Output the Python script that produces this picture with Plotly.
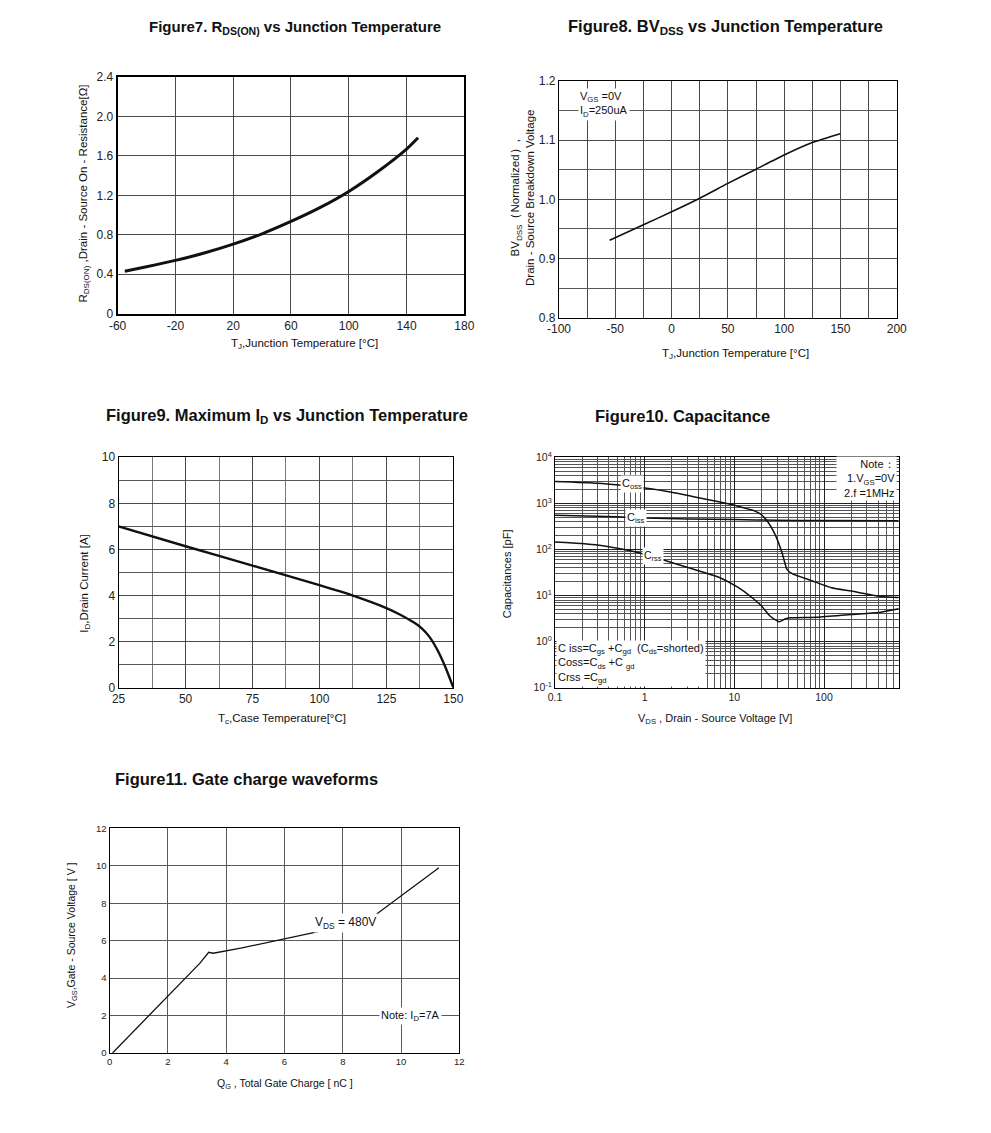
import plotly.graph_objects as go

# page is 991x1133; the html body keeps its default 8px margin
PAGE_W, PAGE_H = 991, 1133
MARGIN = 8
W, H = PAGE_W - 2 * MARGIN, PAGE_H - 2 * MARGIN
FONT = "Liberation Sans, Arial, sans-serif"

# ---------------- data ----------------
# Figure 7: RDS(on) vs junction temperature
f7_tj = [-55, -40, -20, 0, 20, 40, 60, 80, 100, 120, 140, 148]
f7_rds = [0.43, 0.475, 0.54, 0.615, 0.705, 0.81, 0.935, 1.075, 1.24, 1.44, 1.67, 1.785]

# Figure 8: BVdss (normalized) vs junction temperature
f8_tj = [-55, -25, 0, 25, 50, 75, 100, 125, 150]
f8_bv = [0.931, 0.957, 0.979, 1.002, 1.027, 1.051, 1.075, 1.096, 1.111]

# Figure 9: maximum ID vs case temperature
f9_tc = [25, 50, 75, 100, 112.5, 125, 130, 135, 138, 141, 144, 147, 150]
f9_id = [7.0, 6.14, 5.30, 4.45, 4.0, 3.46, 3.18, 2.85, 2.6, 2.22, 1.65, 0.9, 0.0]

# Figure 10: capacitance vs VDS
f10_v_coss = [0.1, 0.3, 0.52, 1, 2, 3.5, 6.7, 11, 17, 20, 24, 28.5, 34, 38.6, 44, 73, 121, 202, 437, 680]
f10_coss = [3000, 2750, 2500, 2150, 1750, 1400, 1080, 870, 680, 570, 380, 210, 85, 37, 30, 21, 14.8, 12.5, 9.5, 9.1]
f10_v_ciss = [0.1, 0.5, 1, 3, 10, 30, 100, 680]
f10_ciss = [550, 510, 480, 460, 445, 430, 425, 422]
f10_v_crss = [0.1, 0.2, 0.37, 0.87, 1.5, 3.1, 6.7, 11, 15.7, 20, 25, 29.7, 31.7, 36.8, 41.6, 85, 202, 404, 680]
f10_crss = [146, 135, 118, 85, 62, 40, 25, 15, 9.1, 6.0, 3.6, 2.85, 2.7, 3.1, 3.3, 3.4, 3.9, 4.3, 5.2]

# Figure 11: gate charge
f11_qg = [0.1, 0.6, 1.3, 2.0, 2.6, 3.1, 3.4, 3.55, 4.5, 6.0, 7.2, 8.75, 10.0, 11.3]
f11_vgs = [0, 0.8, 1.9, 3.05, 4.0, 4.8, 5.38, 5.33, 5.6, 6.1, 6.5, 6.95, 8.4, 9.9]

# tick labels
f7_xticks = [-60, -20, 20, 60, 100, 140, 180]
f7_xtext = ["-60", "-20", "20", "60", "100", "140", "180"]
f7_yticks = [0, 0.4, 0.8, 1.2, 1.6, 2.0, 2.4]
f7_ytext = ["0", "0.4", "0.8", "1.2", "1.6", "2.0", "2.4"]
f8_xticks = [-100, -50, 0, 50, 100, 150, 200]
f8_xtext = ["-100", "-50", "0", "50", "100", "150", "200"]
f10_xticks = [0.1, 1, 10, 100]
f10_xtext = ["0.1", "1", "10", "100"]
f10_yticks = [0.1, 1, 10, 100, 1000, 10000]
f10_ytext = ["10<sup>-1</sup>", "10<sup>0</sup>", "10<sup>1</sup>", "10<sup>2</sup>", "10<sup>3</sup>", "10<sup>4</sup>"]

# screen calibration (observed placement of the paper inside the picture)
SX, OX = 0.981, 10.2
SY, OY = 0.9888, 5.8


def px(x):
    return ((x - OX) / SX - MARGIN) / W


def py(y):
    return 1 - ((y - OY) / SY - MARGIN) / H


fig = go.Figure()

line_black = "#111111"
fig.add_trace(go.Scatter(x=f7_tj, y=f7_rds, mode="lines", line=dict(color=line_black, width=3, shape="spline", smoothing=0.6),
                         xaxis="x", yaxis="y", showlegend=False))
fig.add_trace(go.Scatter(x=f8_tj, y=f8_bv, mode="lines", line=dict(color=line_black, width=1.6, shape="spline", smoothing=0.6),
                         xaxis="x2", yaxis="y2", showlegend=False))
fig.add_trace(go.Scatter(x=f9_tc, y=f9_id, mode="lines", line=dict(color=line_black, width=2.4, shape="spline", smoothing=0.6),
                         xaxis="x3", yaxis="y3", showlegend=False))
for xv, yv in [(f10_v_coss, f10_coss), (f10_v_ciss, f10_ciss), (f10_v_crss, f10_crss)]:
    fig.add_trace(go.Scatter(x=xv, y=yv, mode="lines", line=dict(color=line_black, width=1.5, shape="spline", smoothing=0.5),
                             xaxis="x4", yaxis="y4", showlegend=False))
fig.add_trace(go.Scatter(x=f11_qg, y=f11_vgs, mode="lines", line=dict(color=line_black, width=1.3),
                         xaxis="x5", yaxis="y5", showlegend=False))


def axis(domain, anchor, lw=1.2, fs=12, grid="#666666", **kw):
    d = dict(domain=domain, anchor=anchor, showline=True, mirror=True, linecolor="#000000", linewidth=lw,
             showgrid=True, gridcolor=grid, gridwidth=1, zeroline=False, ticks="",
             tickfont=dict(family=FONT, size=fs, color="#222222"), fixedrange=True)
    d.update(kw)
    return d


# minor log grid values
minor_x = [m * 10 ** e for e in range(-1, 3) for m in range(2, 10) if m * 10 ** e <= 700]
minor_y = [m * 10 ** e for e in range(-1, 4) for m in range(2, 10)]

fig.update_layout(
    width=W, height=H, margin=dict(l=0, r=0, t=0, b=0),
    paper_bgcolor="white", plot_bgcolor="white",
    font=dict(family=FONT, color="#222222"),
    xaxis=axis([px(116), px(464)], "y", lw=2, grid="#4a4a4a", range=[-60, 180], tickmode="array",
               tickvals=f7_xticks, ticktext=f7_xtext),
    yaxis=axis([py(312), py(75)], "x", lw=2, grid="#4a4a4a", range=[0, 2.4], tickmode="array",
               tickvals=f7_yticks, ticktext=f7_ytext),
    xaxis2=axis([px(559), px(898)], "y2", range=[-100, 200], tickmode="array", tickvals=f8_xticks,
                ticktext=f8_xtext, grid="#4a4a4a",
                minor=dict(dtick=25, showgrid=True, gridcolor="#4a4a4a")),
    yaxis2=axis([py(316), py(79)], "x2", range=[0.8, 1.2], dtick=0.1, tickformat=".1f", grid="#4a4a4a",
                minor=dict(dtick=0.05, showgrid=True, gridcolor="#5a5a5a")),
    xaxis3=axis([px(117), px(453)], "y3", range=[25, 150], dtick=25, grid="#4a4a4a",
                minor=dict(dtick=12.5, showgrid=True, gridcolor="#7a7a7a")),
    yaxis3=axis([py(687), py(456)], "x3", range=[0, 10], dtick=2, grid="#4a4a4a",
                minor=dict(dtick=1, showgrid=True, gridcolor="#5a5a5a")),
    xaxis4=axis([px(555), px(900)], "y4", type="log", range=[-1, 2.833], tickmode="array", tickvals=f10_xticks,
                ticktext=f10_xtext, fs=10.5, grid="#222222",
                minor=dict(tickmode="array", tickvals=minor_x, showgrid=True, gridcolor="#555555", gridwidth=1)),
    yaxis4=axis([py(687), py(456)], "x4", type="log", range=[-1, 4], tickmode="array", tickvals=f10_yticks,
                ticktext=f10_ytext, fs=10.5, grid="#222222",
                minor=dict(tickmode="array", tickvals=minor_y, showgrid=True, gridcolor="#555555", gridwidth=1)),
    xaxis5=axis([px(108), px(459)], "y5", range=[0, 12], dtick=2, fs=9.5, grid="#5a5a5a"),
    yaxis5=axis([py(1053), py(828)], "x5", range=[0, 12], dtick=2, fs=9.5, grid="#5a5a5a"),
)

ann = []


def text(x, y, t, size=10, angle=0, bold=False, xanchor="center", yanchor="middle", bg=None, align="center"):
    d = dict(x=px(x), y=py(y), xref="paper", yref="paper", text=("<b>%s</b>" % t) if bold else t,
             showarrow=False, textangle=angle, xanchor=xanchor, yanchor=yanchor, align=align,
             font=dict(family=FONT, size=size, color="#111111"))
    if bg:
        d["bgcolor"] = bg
    ann.append(d)


# titles
text(294, 25, "Figure7. R<sub>DS(ON)</sub> vs Junction Temperature", size=15, bold=True)
text(726, 25, "Figure8. BV<sub>DSS</sub> vs Junction Temperature", size=16.5, bold=True)
text(286, 415, "Figure9. Maximum I<sub>D</sub> vs Junction Temperature", size=16.5, bold=True)
text(683, 415, "Figure10. Capacitance", size=16.5, bold=True)
text(245, 778, "Figure11. Gate charge waveforms", size=16.5, bold=True)

# axis titles
text(82, 192, "R<sub>DS(ON)</sub> ,Drain - Source On - Resistance[Ω]", size=11.5, angle=-90)
text(304, 342, "T<sub>J</sub>,Junction Temperature [°C]", size=11.5)
text(523, 196, "BV<sub>DSS</sub>（Normalized）,<br>Drain - Source Breakdown Voltage", size=11.5, angle=-90)
text(736, 352, "T<sub>J</sub>,Junction Temperature [°C]", size=11.5)
text(83, 582, "I<sub>D</sub>,Drain Current [A]", size=11.5, angle=-90)
text(281, 718, "T<sub>c</sub>,Case Temperature[°C]", size=11.5)
text(507, 573, "Capacitances [pF]", size=11, angle=-90)
text(716, 718, "V<sub>DS</sub> , Drain - Source Voltage [V]", size=11)
text(70, 935, "V<sub>GS</sub>,Gate - Source Voltage [ V ]", size=10.5, angle=-90)
text(284, 1084, "Q<sub>G</sub> , Total Gate Charge [ nC ]", size=10.5)

# in-plot notes
text(578, 102, "V<sub>GS</sub> =0V<br>I<sub>D</sub>=250uA", size=11, xanchor="left", bg="white", align="left")
text(632, 483, "C<sub>oss</sub>", size=11, bg="white")
text(636, 517, "C<sub>iss</sub>", size=11, bg="white")
text(653, 555, "C<sub>rss</sub>", size=10.5, bg="white")
text(898, 477, "Note：<br>  1.V<sub>GS</sub>=0V<br>  2.f =1MHz", size=11, xanchor="right", bg="white", align="right")
text(556, 686, "C iss=C<sub>gs</sub> +C<sub>gd</sub>  (C<sub>ds</sub>=shorted)<br>Coss=C<sub>ds</sub> +C <sub>gd</sub><br>Crss =C<sub>gd</sub>",
     size=11, xanchor="left", yanchor="bottom", bg="white", align="left")
text(345, 923, "V<sub>DS</sub> = 480V", size=12, bg="white")
text(410, 1016, "Note: I<sub>D</sub>=7A", size=11, bg="white")

fig.update_layout(annotations=ann)

fig.write_html("out.html")
